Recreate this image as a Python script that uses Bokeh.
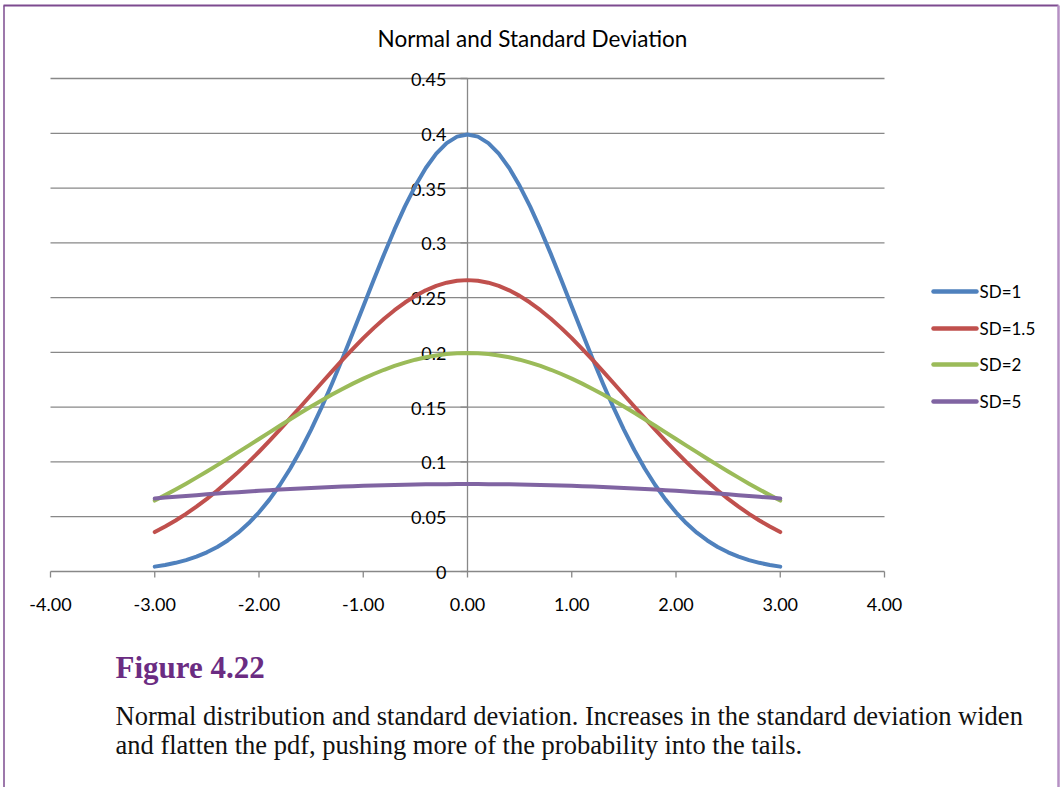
from bokeh.plotting import figure
from bokeh.models import Range1d
from bokeh.core.properties import value
from bokeh.embed import file_html
from bokeh.resources import INLINE

# ---- data -------------------------------------------------------------
x_values = [-3.0, -2.9, -2.8, -2.7, -2.6, -2.5, -2.4, -2.3, -2.2, -2.1,
            -2.0, -1.9, -1.8, -1.7, -1.6, -1.5, -1.4, -1.3, -1.2, -1.1,
            -1.0, -0.9, -0.8, -0.7, -0.6, -0.5, -0.4, -0.3, -0.2, -0.1,
            0.0, 0.1, 0.2, 0.3, 0.4, 0.5, 0.6, 0.7, 0.8, 0.9,
            1.0, 1.1, 1.2, 1.3, 1.4, 1.5, 1.6, 1.7, 1.8, 1.9,
            2.0, 2.1, 2.2, 2.3, 2.4, 2.5, 2.6, 2.7, 2.8, 2.9, 3.0]
sd_1 = [0.00443, 0.00595, 0.00792, 0.01042, 0.01358, 0.01753, 0.02239, 0.02833, 0.03547, 0.04398,
        0.05399, 0.06562, 0.07895, 0.09405, 0.11092, 0.12952, 0.14973, 0.17137, 0.19419, 0.21785,
        0.24197, 0.26609, 0.28969, 0.31225, 0.33322, 0.35207, 0.36827, 0.38139, 0.39104, 0.39695,
        0.39894,
        0.39695, 0.39104, 0.38139, 0.36827, 0.35207, 0.33322, 0.31225, 0.28969, 0.26609, 0.24197,
        0.21785, 0.19419, 0.17137, 0.14973, 0.12952, 0.11092, 0.09405, 0.07895, 0.06562, 0.05399,
        0.04398, 0.03547, 0.02833, 0.02239, 0.01753, 0.01358, 0.01042, 0.00792, 0.00595, 0.00443]
sd_1_5 = [0.03599, 0.04104, 0.04658, 0.05263, 0.05921, 0.06632, 0.07395, 0.08209, 0.09072, 0.09982,
          0.10934, 0.11924, 0.12946, 0.13993, 0.15058, 0.16131, 0.17205, 0.18269, 0.19313, 0.20325,
          0.21297, 0.22215, 0.23070, 0.23852, 0.24551, 0.25159, 0.25667, 0.26070, 0.26361, 0.26537,
          0.26596,
          0.26537, 0.26361, 0.26070, 0.25667, 0.25159, 0.24551, 0.23852, 0.23070, 0.22215, 0.21297,
          0.20325, 0.19313, 0.18269, 0.17205, 0.16131, 0.15058, 0.13993, 0.12946, 0.11924, 0.10934,
          0.09982, 0.09072, 0.08209, 0.07395, 0.06632, 0.05921, 0.05263, 0.04658, 0.04104, 0.03599]
sd_2 = [0.06476, 0.06971, 0.07486, 0.08019, 0.08568, 0.09132, 0.09709, 0.10297, 0.10893, 0.11494,
        0.12099, 0.12703, 0.13304, 0.13899, 0.14485, 0.15057, 0.15613, 0.16149, 0.16661, 0.17147,
        0.17603, 0.18026, 0.18414, 0.18762, 0.19069, 0.19333, 0.19552, 0.19724, 0.19848, 0.19922,
        0.19947,
        0.19922, 0.19848, 0.19724, 0.19552, 0.19333, 0.19069, 0.18762, 0.18414, 0.18026, 0.17603,
        0.17147, 0.16661, 0.16149, 0.15613, 0.15057, 0.14485, 0.13899, 0.13304, 0.12703, 0.12099,
        0.11494, 0.10893, 0.10297, 0.09709, 0.09132, 0.08568, 0.08019, 0.07486, 0.06971, 0.06476]
sd_5 = [0.06664, 0.06744, 0.06821, 0.06896, 0.06970, 0.07041, 0.07111, 0.07178, 0.07243, 0.07305,
        0.07365, 0.07423, 0.07478, 0.07531, 0.07581, 0.07628, 0.07672, 0.07714, 0.07752, 0.07788,
        0.07821, 0.07851, 0.07877, 0.07901, 0.07922, 0.07939, 0.07953, 0.07964, 0.07972, 0.07977,
        0.07979,
        0.07977, 0.07972, 0.07964, 0.07953, 0.07939, 0.07922, 0.07901, 0.07877, 0.07851, 0.07821,
        0.07788, 0.07752, 0.07714, 0.07672, 0.07628, 0.07581, 0.07531, 0.07478, 0.07423, 0.07365,
        0.07305, 0.07243, 0.07178, 0.07111, 0.07041, 0.06970, 0.06896, 0.06821, 0.06744, 0.06664]
series_names = ["SD=1", "SD=1.5", "SD=2", "SD=5"]
series_colors = ["#4F81BD", "#C0504D", "#9BBB59", "#8064A2"]

x_ticks = [-4, -3, -2, -1, 0, 1, 2, 3, 4]
x_tick_labels = ["-4.00", "-3.00", "-2.00", "-1.00", "0.00", "1.00", "2.00", "3.00", "4.00"]
y_ticks = [0, 0.05, 0.1, 0.15, 0.2, 0.25, 0.3, 0.35, 0.4, 0.45]
y_tick_labels = ["0", "0.05", "0.1", "0.15", "0.2", "0.25", "0.3", "0.35", "0.4", "0.45"]

title_text = "Normal and Standard Deviation"
figure_label = "Figure 4.22"
caption_lines = [
    "Normal distribution and standard deviation. Increases in the standard deviation widen",
    "and flatten the pdf, pushing more of the probability into the tails.",
]

# ---- canvas / scale ---------------------------------------------------
W, H = 1060, 787
SX = 834 / 8.0          # pixels per x unit
SY = 493 / 0.45         # pixels per y unit
X0 = -4 - 50 / SX       # x value at the left edge of the canvas
YT = 571 / SY           # y value at the top edge of the canvas


def dx(px):
    return X0 + px / SX


def dy(py):
    return YT - py / SY


p = figure(width=W, height=H, output_backend="svg", toolbar_location=None,
           x_axis_type=None, y_axis_type=None, min_border=0,
           x_range=Range1d(X0, X0 + W / SX), y_range=Range1d(YT - H / SY, YT))
p.outline_line_color = None
p.background_fill_color = "white"
p.border_fill_color = "white"
p.grid.visible = False

FONT = value("Lato")
SERIF = value("Liberation Serif")
GRID = "#888888"

# horizontal gridlines across the x span
p.segment(x0=[x_ticks[0]] * len(y_ticks), x1=[x_ticks[-1]] * len(y_ticks),
          y0=y_ticks, y1=y_ticks, line_color=GRID, line_width=1.3)

# value axis through x = 0, with short ticks to its left
p.segment(x0=[0], x1=[0], y0=[y_ticks[0]], y1=[y_ticks[-1]], line_color=GRID, line_width=1.3)
p.segment(x0=[0] * len(y_ticks), x1=[-7 / SX] * len(y_ticks),
          y0=y_ticks, y1=y_ticks, line_color=GRID, line_width=1.3)
p.text(x=[0] * len(y_ticks), y=y_ticks, text=y_tick_labels, x_offset=-21, y_offset=1,
       text_align="right", text_baseline="middle", text_font=FONT,
       text_font_size="18px", text_color="#000000")

# x ticks and labels along y = 0
p.segment(x0=x_ticks, x1=x_ticks, y0=[0] * len(x_ticks), y1=[-6 / SY] * len(x_ticks),
          line_color=GRID, line_width=1.3)
p.text(x=x_ticks, y=[0] * len(x_ticks), text=x_tick_labels, y_offset=33,
       text_align="center", text_baseline="middle", text_font=FONT,
       text_font_size="18px", text_color="#000000")

# curves
for ys, name, color in zip([sd_1, sd_1_5, sd_2, sd_5], series_names, series_colors):
    p.line(x_values, ys, line_color=color, line_width=4, line_cap="round", line_join="round")

# legend
leg_y = [291, 328, 364, 401]
for i, (name, color) in enumerate(zip(series_names, series_colors)):
    p.segment(x0=[dx(933)], x1=[dx(976)], y0=[dy(leg_y[i])], y1=[dy(leg_y[i])],
              line_color=color, line_width=4.5, line_cap="round")
    p.text(x=[dx(979)], y=[dy(leg_y[i])], text=[name], text_align="left",
           text_baseline="middle", text_font=FONT, text_font_size="17px",
           text_color="#000000")

# chart title
p.text(x=[dx(532)], y=[dy(38)], text=[title_text], text_align="center",
       text_baseline="middle", text_font=FONT, text_font_size="22.5px",
       text_color="#000000")

# figure caption
p.text(x=[dx(115)], y=[dy(667)], text=[figure_label], text_align="left",
       text_baseline="middle", text_font=SERIF,
       text_font_size="31px", text_font_style="bold", text_color="#6B2C82")
for i, line in enumerate(caption_lines):
    p.text(x=[dx(115)], y=[dy(715 + 29 * i)], text=[line], text_align="left",
           text_baseline="middle", text_font=SERIF,
           text_font_size="26.5px", text_color="#111111")

# page frame
p.segment(x0=[dx(3)], x1=[dx(1058)], y0=[dy(5)], y1=[dy(5)], line_color="#7D4B8F", line_width=2)
p.segment(x0=[dx(3.5)], x1=[dx(3.5)], y0=[dy(5)], y1=[dy(H)], line_color="#7D4B8F", line_width=1.5)
p.segment(x0=[dx(1058)], x1=[dx(1058)], y0=[dy(5)], y1=[dy(H)], line_color="#B690C4", line_width=2.5)

open("out.html", "w").write(file_html(p, INLINE))
